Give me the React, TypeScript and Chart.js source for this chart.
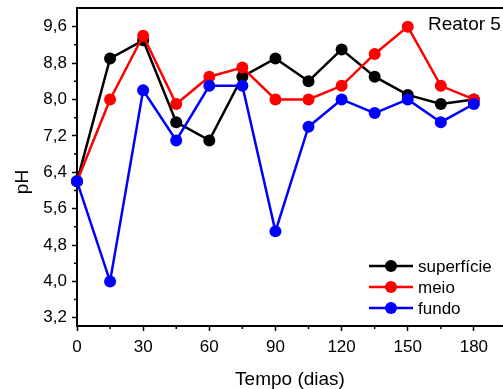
import React, { useEffect, useRef } from "react";
import { Chart, registerables } from "chart.js";

Chart.register(...registerables);

const days = [0, 15, 30, 45, 60, 75, 90, 105, 120, 135, 150, 165, 180];
const superficie = [6.2, 8.9, 9.3, 7.5, 7.1, 8.5, 8.9, 8.4, 9.1, 8.5, 8.1, 7.9, 8.0];
const meio = [6.2, 8.0, 9.4, 7.9, 8.5, 8.7, 8.0, 8.0, 8.3, 9.0, 9.6, 8.3, 8.0];
const fundo = [6.2, 4.0, 8.2, 7.1, 8.3, 8.3, 5.1, 7.4, 8.0, 7.7, 8.0, 7.5, 7.9];

const xMajor = [0, 30, 60, 90, 120, 150, 180];
const xMinor = [15, 45, 75, 105, 135, 165];
const yMajor = [3.2, 4.0, 4.8, 5.6, 6.4, 7.2, 8.0, 8.8, 9.6];
const yMinor = [3.6, 4.4, 5.2, 6.0, 6.8, 7.6, 8.4, 9.2];

const seriesNames = ["superfície", "meio", "fundo"];
const seriesColors = ["#000000", "#ff0000", "#0000ff"];
const FONT = "'Liberation Sans', Arial, sans-serif";

const decorPlugin = {
  id: "decor",
  afterDraw(chart: any) {
    const ctx = chart.ctx;
    const a = chart.chartArea;
    const xs = chart.scales.x;
    const ys = chart.scales.y;
    ctx.save();
    ctx.strokeStyle = "#000";
    ctx.lineWidth = 1.5;
    // minor ticks
    ctx.beginPath();
    for (const v of xMinor) {
      const px = xs.getPixelForValue(v);
      ctx.moveTo(px, a.bottom);
      ctx.lineTo(px, a.bottom + 3);
    }
    for (const v of yMinor) {
      const py = ys.getPixelForValue(v);
      ctx.moveTo(a.left, py);
      ctx.lineTo(a.left - 3, py);
    }
    ctx.stroke();
    // top frame
    ctx.lineWidth = 2;
    ctx.beginPath();
    ctx.moveTo(a.left - 1, a.top);
    ctx.lineTo(a.right, a.top);
    ctx.stroke();

    // titles
    ctx.fillStyle = "#000";
    ctx.font = `19px ${FONT}`;
    ctx.textBaseline = "alphabetic";
    ctx.textAlign = "center";
    ctx.fillText("Tempo (dias)", (a.left + a.right) / 2, 385);
    ctx.save();
    ctx.translate(28, 182);
    ctx.rotate(-Math.PI / 2);
    ctx.fillText("pH", 0, 0);
    ctx.restore();
    ctx.textAlign = "left";
    ctx.fillText("Reator 5", 428, 30);

    // legend
    ctx.font = `17px ${FONT}`;
    ctx.textBaseline = "middle";
    const rows = [a.bottom - 60, a.bottom - 39, a.bottom - 18];
    const lx = a.right - 134;
    rows.forEach((y, i) => {
      ctx.strokeStyle = seriesColors[i];
      ctx.fillStyle = seriesColors[i];
      ctx.lineWidth = 2.5;
      ctx.beginPath();
      ctx.moveTo(lx, y);
      ctx.lineTo(lx + 44, y);
      ctx.stroke();
      ctx.beginPath();
      ctx.arc(lx + 22, y, 6, 0, Math.PI * 2);
      ctx.fill();
      ctx.fillStyle = "#000";
      ctx.fillText(seriesNames[i], lx + 49, y + 1);
    });
    ctx.restore();
  },
};

export default function App() {
  const ref = useRef<HTMLCanvasElement>(null);
  useEffect(() => {
    document.body.style.margin = "0";
    const mk = (i: number, data: number[], order: number) => ({
      label: seriesNames[i],
      data: days.map((d, k) => ({ x: d, y: data[k] })),
      borderColor: seriesColors[i],
      backgroundColor: seriesColors[i],
      pointBackgroundColor: seriesColors[i],
      pointBorderColor: seriesColors[i],
      pointRadius: 6,
      pointBorderWidth: 0,
      borderWidth: 2.5,
      tension: 0,
      clip: false as any,
      order,
    });
    const chart = new Chart(ref.current!, {
      type: "line",
      data: {
        datasets: [mk(0, superficie, 2), mk(1, meio, 1), mk(2, fundo, 0)],
      },
      options: {
        animation: false,
        responsive: false,
        devicePixelRatio: 1,
        layout: { autoPadding: false, padding: { top: 8, right: 0, left: 0, bottom: 0 } },
        plugins: { legend: { display: false }, tooltip: { enabled: false } },
        scales: {
          x: {
            type: "linear",
            min: 0,
            max: 193.2,
            afterBuildTicks: (s: any) => {
              s.ticks = xMajor.map((v) => ({ value: v }));
            },
            afterFit: (s: any) => {
              s.height = 63;
              s.paddingLeft = 0;
              s.paddingRight = 0;
            },
            ticks: {
              color: "#000",
              font: { family: FONT, size: 17 },
              padding: 6,
              maxRotation: 0,
              autoSkip: false,
            },
            grid: {
              drawOnChartArea: false,
              drawTicks: true,
              tickLength: 5,
              tickWidth: 1.5,
              tickColor: "#000",
            },
            border: { display: true, color: "#000", width: 2 },
          },
          y: {
            type: "linear",
            min: 3.02,
            max: 10.01,
            afterBuildTicks: (s: any) => {
              s.ticks = yMajor.map((v) => ({ value: v }));
            },
            afterFit: (s: any) => {
              s.width = 77;
              s.paddingTop = 0;
              s.paddingBottom = 0;
            },
            ticks: {
              color: "#000",
              font: { family: FONT, size: 17 },
              padding: 5,
              autoSkip: false,
              callback: (v: any) => Number(v).toFixed(1).replace(".", ","),
            },
            grid: {
              drawOnChartArea: false,
              drawTicks: true,
              tickLength: 5,
              tickWidth: 1.5,
              tickColor: "#000",
            },
            border: { display: true, color: "#000", width: 2 },
          },
        },
      },
      plugins: [decorPlugin],
    });
    return () => chart.destroy();
  }, []);
  return (
    <div style={{ position: "fixed", left: 0, top: 0, width: 503, height: 389 }}>
      <canvas ref={ref} width={503} height={389} style={{ display: "block" }} />
    </div>
  );
}
